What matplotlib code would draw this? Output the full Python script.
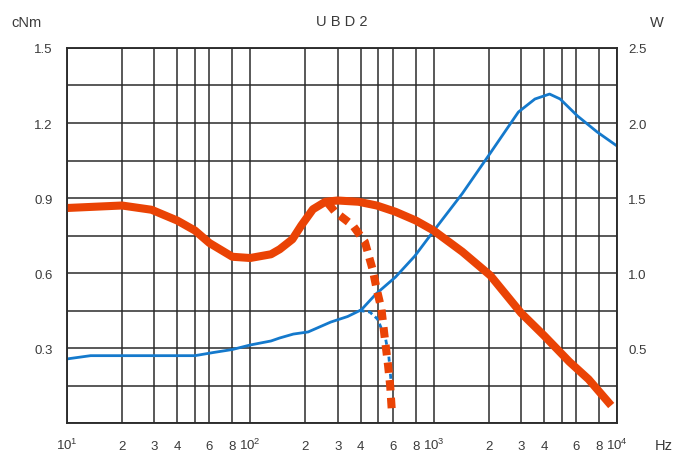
import matplotlib
matplotlib.use('Agg')
import matplotlib.pyplot as plt
import matplotlib.ticker as mticker

plt.rcParams['font.family'] = ['Liberation Sans', 'DejaVu Sans']

# torque (cNm, left axis)
freq_torque = [10, 20, 29, 40, 50, 60, 80, 100, 130, 145, 170, 190, 220, 257,
               300, 390, 490, 620, 800, 1000, 1435, 2040, 3000, 4000, 5500, 7000, 9300]
torque = [0.86, 0.87, 0.853, 0.81, 0.77, 0.72, 0.665, 0.66, 0.675, 0.695, 0.735, 0.79,
          0.855, 0.885, 0.89, 0.885, 0.87, 0.845, 0.81, 0.77, 0.685, 0.59, 0.44, 0.35,
          0.245, 0.175, 0.07]

# torque, dashed branch
freq_torque_dash = [265, 290, 363, 422, 465, 490, 520, 540, 565, 580, 592]
torque_dash = [0.88, 0.845, 0.79, 0.725, 0.615, 0.535, 0.455, 0.35, 0.23, 0.15, 0.05]

# power (W, right axis)
freq_power = [10, 13.5, 50, 63, 80, 100, 130, 145, 172, 207, 275, 340, 404, 485, 620, 790,
              1000, 1435, 2040, 2900, 3570, 4290, 4900, 6090, 7800, 10000]
power = [0.427, 0.449, 0.449, 0.47, 0.49, 0.52, 0.547, 0.567, 0.593, 0.607, 0.673, 0.71,
         0.755, 0.86, 0.973, 1.113, 1.28, 1.53, 1.8, 2.073, 2.16, 2.193, 2.16, 2.047,
         1.94, 1.847]

# power, dashed branch
freq_power_dash = [395, 449, 495, 548, 570, 585, 600]
power_dash = [0.75, 0.74, 0.693, 0.56, 0.447, 0.293, 0.227]

# axis ticks / labels
grid_freqs = [10, 20, 30, 40, 50, 60, 80,
              100, 200, 300, 400, 500, 600, 800,
              1000, 2000, 3000, 4000, 5000, 6000, 8000, 10000]
xlabel_freqs = [10, 20, 30, 40, 60, 80, 100, 200, 300, 400, 600, 800,
                1000, 2000, 3000, 4000, 6000, 8000, 10000]
xlabel_texts = [r'$\mathregular{10^1}$', '2', '3', '4', '6', '8',
                r'$\mathregular{10^2}$', '2', '3', '4', '6', '8',
                r'$\mathregular{10^3}$', '2', '3', '4', '6', '8',
                r'$\mathregular{10^4}$']
left_ticks = [0.3, 0.6, 0.9, 1.2, 1.5]
left_labels = ['0.3', '0.6', '0.9', '1.2', '1.5']
right_grid = [0, 0.25, 0.5, 0.75, 1.0, 1.25, 1.5, 1.75, 2.0, 2.25, 2.5]
right_labels = ['', '', '0.5', '', '1.0', '', '1.5', '', '2.0', '', '2.5']

red = '#ea4305'
blue = '#1479cc'
gridc = '#2b2b2b'
txtc = '#3a3a3a'

fig = plt.figure(figsize=(6.85, 4.52), dpi=100)
ax = fig.add_axes([0.0974, 0.0619, 0.8033, 0.8297])
ax2 = ax.twinx()

# power axis sits underneath and carries the grid
ax.set_zorder(ax2.get_zorder() + 1)
ax.patch.set_visible(False)
ax2.xaxis.set_visible(True)

ax.set_xscale('log')
ax.set_xlim(10, 10000)
ax.set_ylim(0, 1.5)
ax2.set_ylim(0, 2.5)

ax.xaxis.set_major_locator(mticker.FixedLocator(grid_freqs))
ax.xaxis.set_minor_locator(mticker.NullLocator())
ax.xaxis.set_major_formatter(mticker.NullFormatter())

ax2.yaxis.set_major_locator(mticker.FixedLocator(right_grid))
ax2.yaxis.set_major_formatter(mticker.FixedFormatter(right_labels))
ax.yaxis.set_major_locator(mticker.FixedLocator(left_ticks))
ax.yaxis.set_major_formatter(mticker.FixedFormatter(left_labels))

ax2.grid(True, which='major', axis='both', color=gridc, lw=1.1)
ax.tick_params(axis='both', length=0, labelsize=9.5, labelcolor=txtc)
ax.tick_params(axis='y', pad=10)
ax2.tick_params(axis='x', length=0, labelbottom=False, labeltop=False)
ax2.tick_params(axis='y', length=0, labelsize=9.5, labelcolor=txtc, pad=8)
for a in (ax, ax2):
    for s in a.spines.values():
        s.set_color(gridc)
        s.set_linewidth(1.1)

# power curves
ax2.plot(freq_power, power, color=blue, lw=2.0, solid_joinstyle='round')
ax2.plot(freq_power_dash, power_dash, color=blue, lw=2.0, dashes=(1.8, 1.3))

# torque curves
ax.plot(freq_torque, torque, color=red, lw=5.8, solid_capstyle='butt',
        solid_joinstyle='round')
ax.plot(freq_torque_dash, torque_dash, color=red, lw=5.8, dashes=(1.3, 0.9))

# x labels sit on a common baseline
for f, t in zip(xlabel_freqs, xlabel_texts):
    ax.text(f, -0.069, t, transform=ax.get_xaxis_transform(), ha='center',
            va='baseline', fontsize=9.5, color=txtc)
ax.text(1.085, -0.069, 'Hz', transform=ax.transAxes, ha='center', va='baseline',
        fontsize=10.5, color=txtc)

# headings
ax.text(0.5, 1.06, 'U B D 2', transform=ax.transAxes, ha='center', va='baseline',
        fontsize=10.5, color=txtc)
fig.text(27 / 685, 1 - 27 / 452, 'cNm', ha='center', va='baseline', fontsize=10.5,
         color=txtc)
fig.text(657 / 685, 1 - 27 / 452, 'W', ha='center', va='baseline', fontsize=10.5,
         color=txtc)

fig.savefig('out.png', dpi=100)
